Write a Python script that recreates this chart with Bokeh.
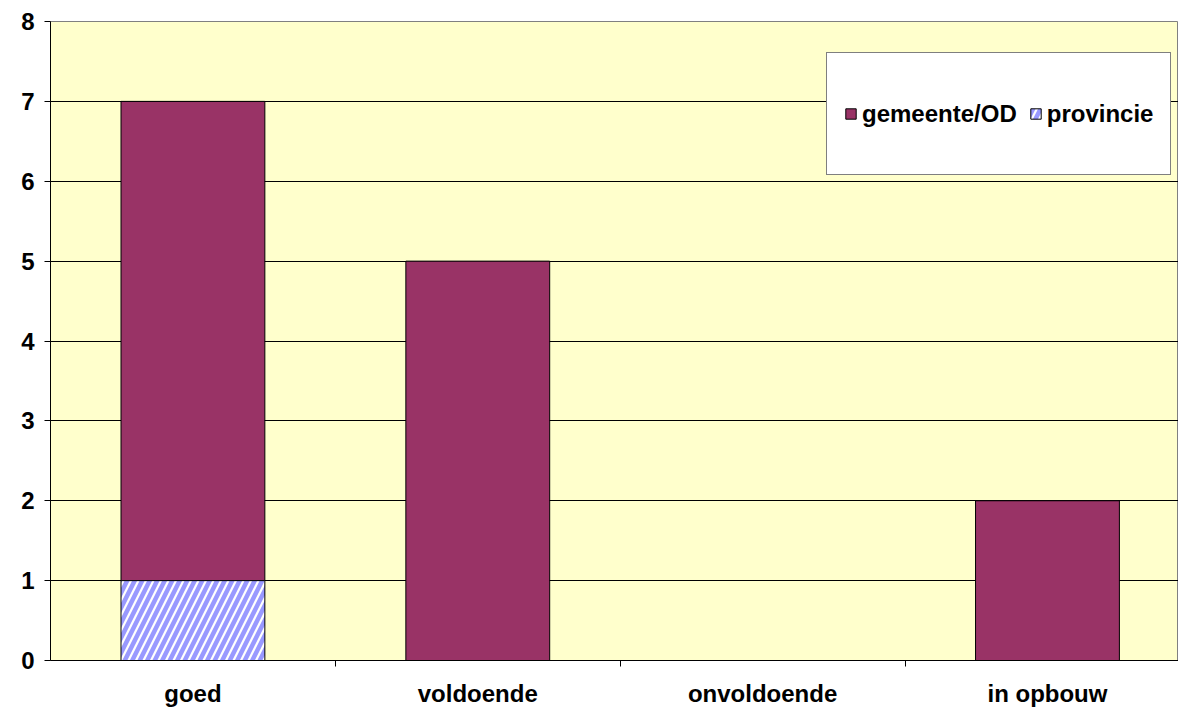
from bokeh.plotting import figure
from bokeh.models import FixedTicker, Range1d, Legend, LegendItem, ColumnDataSource
from bokeh.embed import file_html
from bokeh.resources import INLINE

categories = ["goed", "voldoende", "onvoldoende", "in opbouw"]
provincie = [1, 0, 0, 0]
gemeente = [6, 5, 0, 2]
y_ticks = [0, 1, 2, 3, 4, 5, 6, 7, 8]

xs = [i + 0.5 for i in range(len(categories))]
gem_bottom = provincie
gem_top = [p + g for p, g in zip(provincie, gemeente)]

p = figure(width=1178, height=709, output_backend="svg", toolbar_location=None,
           x_range=Range1d(0, 3.96), y_range=Range1d(0, 8),
           min_border_left=50, min_border_right=0, min_border_top=21, min_border_bottom=49)
p.background_fill_color = "#FFFFCC"
p.border_fill_color = "white"
p.outline_line_color = "#808080"

src_p = ColumnDataSource(dict(x=[x for x, v in zip(xs, provincie) if v > 0],
                              top=[v for v in provincie if v > 0]))
src_g = ColumnDataSource(dict(x=[x for x, v in zip(xs, gemeente) if v > 0],
                              bottom=[b for b, v in zip(gem_bottom, gemeente) if v > 0],
                              top=[t for t, v in zip(gem_top, gemeente) if v > 0]))

rg = p.vbar(x="x", bottom="bottom", top="top", width=0.505, source=src_g,
            fill_color="#993366", line_color="black", line_width=1)
rp = p.vbar(x="x", bottom=0, top="top", width=0.505, source=src_p,
            fill_color="white", line_color="black", line_width=1,
            hatch_pattern="right_diagonal_line", hatch_color="#9999FF",
            hatch_scale=15, hatch_weight=4.5)

p.xgrid.visible = False
p.ygrid.grid_line_color = "black"
p.ygrid.grid_line_width = 1
p.ygrid.ticker = FixedTicker(ticks=y_ticks)

p.yaxis.ticker = FixedTicker(ticks=y_ticks)
p.yaxis.major_tick_in = 0
p.yaxis.major_tick_out = 6
p.yaxis.major_tick_line_color = "black"
p.yaxis.minor_tick_line_color = None
p.yaxis.major_label_text_font = "Liberation Sans"
p.yaxis.major_label_text_font_style = "bold"
p.yaxis.major_label_text_font_size = "24px"
p.yaxis.major_label_text_color = "black"
p.yaxis.major_label_standoff = 10
p.yaxis.axis_line_color = "black"

p.xaxis.ticker = FixedTicker(ticks=xs, minor_ticks=[1, 2, 3])
p.xaxis.major_label_overrides = {x: c for x, c in zip(xs, categories)}
p.xaxis.major_tick_line_color = None
p.xaxis.minor_tick_in = 0
p.xaxis.minor_tick_out = 6
p.xaxis.minor_tick_line_color = "black"
p.xaxis.major_label_text_font = "Liberation Sans"
p.xaxis.major_label_text_font_style = "bold"
p.xaxis.major_label_text_font_size = "24px"
p.xaxis.major_label_text_color = "black"
p.xaxis.major_label_standoff = 13
p.xaxis.axis_line_color = "black"

legend = Legend(items=[LegendItem(label="gemeente/OD", renderers=[rg]),
                       LegendItem(label="provincie", renderers=[rp])],
                orientation="horizontal", location=(776, 485))
legend.label_text_font = "Liberation Sans"
legend.label_text_font_style = "bold"
legend.label_text_font_size = "24px"
legend.label_text_color = "black"
legend.label_height = 87
legend.glyph_width = 13
legend.glyph_height = 13
legend.padding = 17
legend.spacing = 12
legend.label_standoff = 5
legend.margin = 0
legend.border_line_color = "black"
legend.border_line_width = 1
legend.background_fill_color = "white"
legend.background_fill_alpha = 1
p.add_layout(legend, "center")

open("out.html", "w").write(file_html(p, INLINE))
